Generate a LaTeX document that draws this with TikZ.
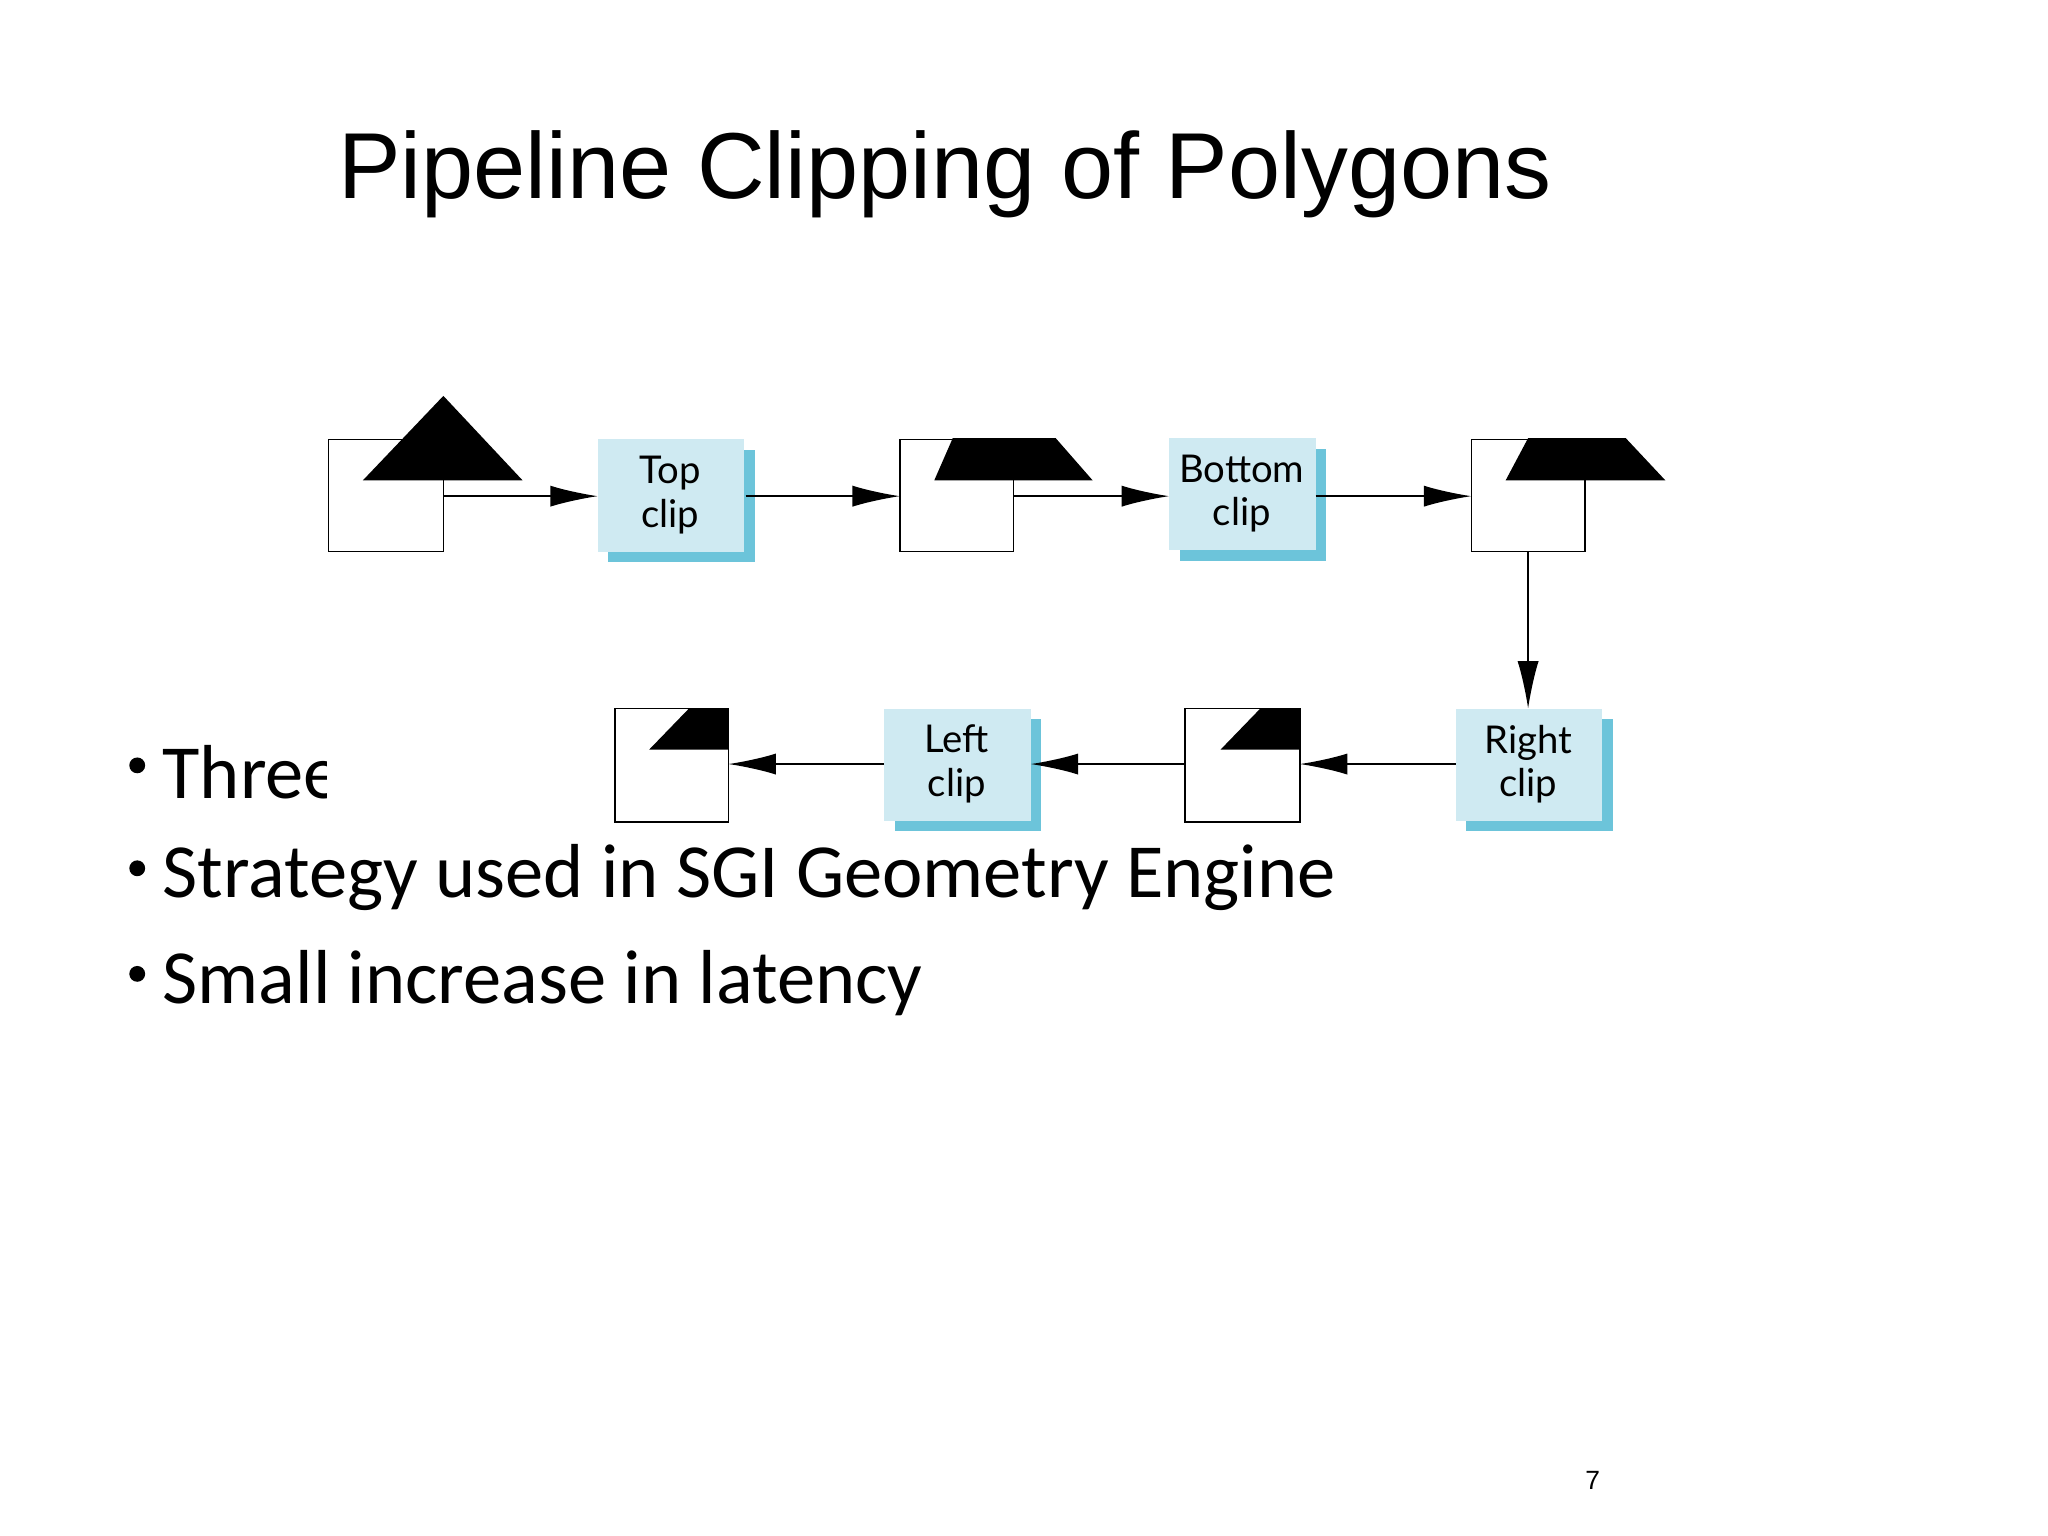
\documentclass[tikz,border=0pt]{standalone}
\usepackage{fontspec}
\setmainfont{Liberation Sans}
\newfontfamily\bodyfont{Carlito}
\newfontfamily\labfont{Lato}
\usetikzlibrary{arrows.meta}
\definecolor{clipfill}{HTML}{CFEAF2}
\definecolor{clipshadow}{HTML}{6CC4DA}
\tikzset{
  x=1pt,y=-1pt,
  conn/.style={draw=black,line width=1.2pt,-{Latex[length=36pt,width=16pt]}},
  sq/.style={draw=black,line width=1.2pt,fill=white},
  bul/.style={anchor=west,font=\bodyfont\fontsize{58}{62}\selectfont,inner sep=0pt},
}
\newcommand{\clipbox}[4]{%
  \fill[clipshadow] (#1+8,#2+8) rectangle (#1+119,#2+93);
  \fill[clipfill] (#1,#2) rectangle (#1+111,#2+85);
  \node[font=\labfont\fontsize{29}{33}\selectfont,align=center,inner sep=0pt] (#4) at (#1+55,#2+42) {#3};
}
\begin{document}
\begin{tikzpicture}
\useasboundingbox (0,0) rectangle (1552,1164);
\fill[white] (0,0) rectangle (1552,1164);
\node[font=\fontsize{71}{76}\selectfont] (title) at (716,132) {Pipeline Clipping of Polygons};
% bullets
\fill (104,580) circle (6);
\node[bul] (b1) at (123,585) {Three};
\fill (104,658) circle (6);
\node[bul] (b2) at (123,665) {Strategy used in SGI Geometry Engine};
\fill (104,738) circle (6);
\node[bul] (b3) at (123,745) {Small increase in latency};
\node[font=\fontsize{20}{22}\selectfont] (pg) at (1207,1122) {7};
% diagram background covering
\fill[white] (248,292) rectangle (1266,632);
% top row
\draw[sq] (249,333) rectangle (336,418);
\fill (275,364) -- (336,300) -- (396,364) -- cycle;
\coordinate (o1) at (336,376);
\clipbox{453}{333}{Top\\clip}{tc}
\draw[sq] (682,333) rectangle (768,418);
\fill (708,364) -- (722,332) -- (800,332) -- (828,364) -- cycle;
\coordinate (o2) at (768,376);
\clipbox{886}{332}{Bottom\\clip}{bc}
\draw[sq] (1115,333) rectangle (1201,418);
\fill (1141,364) -- (1158,332) -- (1232,332) -- (1262,364) -- cycle;
% bottom row
\clipbox{1103}{537}{Right\\clip}{rc}
\draw[sq] (898,537) rectangle (985,623);
\fill (925,568) -- (955,537) -- (985,537) -- (985,568) -- cycle;
\clipbox{670}{537}{Left\\clip}{lc}
\draw[sq] (466,537) rectangle (552,623);
\fill (492,568) -- (522,537) -- (552,537) -- (552,568) -- cycle;
% connectors
\coordinate (a1) at (453,376);
\coordinate (a2) at (565,376);
\coordinate (a3) at (682,376);
\coordinate (a4) at (886,376);
\coordinate (a5) at (997,376);
\coordinate (a6) at (1115,376);
\coordinate (d1) at (1158,418);
\coordinate (d2) at (1158,537);
\coordinate (r1) at (1103,579);
\coordinate (r2) at (985,579);
\coordinate (r3) at (898,579);
\coordinate (r4) at (781,579);
\coordinate (r5) at (670,579);
\coordinate (r6) at (552,579);
\draw[conn] (o1) -- (a1);
\draw[conn] (a2) -- (a3);
\draw[conn] (o2) -- (a4);
\draw[conn] (a5) -- (a6);
\draw[conn] (d1) -- (d2);
\draw[conn] (r1) -- (r2);
\draw[conn] (r3) -- (r4);
\draw[conn] (r5) -- (r6);
\end{tikzpicture}
\end{document}
